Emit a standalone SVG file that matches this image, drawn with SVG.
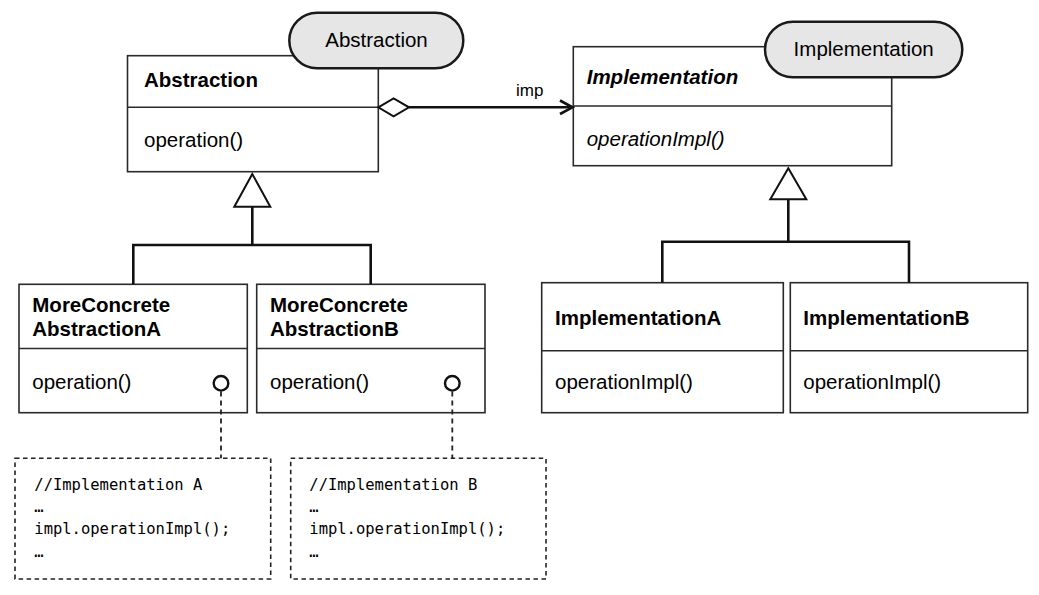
<svg xmlns="http://www.w3.org/2000/svg" width="1039" height="595" viewBox="0 0 1039 595">
<style>
.box{fill:#fff;stroke:#2a2a2a;stroke-width:1.6}
.div{stroke:#2a2a2a;stroke-width:1.6}
.pill{fill:#e6e6e6;stroke:#1a1a1a;stroke-width:2.5}
.t{font-family:"Liberation Sans",Arial,sans-serif;font-size:20.5px;fill:#000}
.b{font-weight:bold}
.i{font-style:italic}
.c{text-anchor:middle}
.mono{font-family:"DejaVu Sans Mono","Liberation Mono",monospace;font-size:15.5px;fill:#000}
.line{fill:none;stroke:#111;stroke-width:2.6}
.tri{fill:#fff;stroke:#111;stroke-width:2}
.note{fill:#fff;stroke:#222;stroke-width:1.6;stroke-dasharray:4.5 3.5}
.dash{fill:none;stroke:#222;stroke-width:1.8;stroke-dasharray:5 4}
.hole{fill:#fff;stroke:#111;stroke-width:2.4}
</style>
<rect width="1039" height="595" fill="#fff"/>
<g id="abstraction">
<rect class="box" x="127.5" y="55.7" width="250.8" height="116"/>
<line class="div" x1="127.5" y1="107.3" x2="378.3" y2="107.3"/>
<text class="t b" x="144" y="87">Abstraction</text>
<text class="t" x="144" y="147">operation()</text>
</g>
<g id="abstraction-label">
<rect class="pill" x="289.3" y="12.7" width="174" height="55.6" rx="27.8"/>
<text class="t c" x="376.5" y="47">Abstraction</text>
</g>
<g id="implementation">
<rect class="box" x="573.3" y="46.7" width="318.4" height="119"/>
<line class="div" x1="573.3" y1="106" x2="891.7" y2="106"/>
<text class="t b i" x="586.7" y="83.5">Implementation</text>
<text class="t i" x="586.7" y="146">operationImpl()</text>
</g>
<g id="implementation-label">
<rect class="pill" x="765" y="21.7" width="197.3" height="55.6" rx="27.8"/>
<text class="t c" x="863.7" y="56">Implementation</text>
</g>
<g id="moreConcreteA">
<rect class="box" x="19" y="284.3" width="228.3" height="128.4"/>
<line class="div" x1="19" y1="348.5" x2="247.3" y2="348.5"/>
<text class="t b" x="32.3" y="311.7">MoreConcrete</text>
<text class="t b" x="32.3" y="336">AbstractionA</text>
<text class="t" x="32.3" y="388.5">operation()</text>
</g>
<g id="moreConcreteB">
<rect class="box" x="256.7" y="284.3" width="228.3" height="128.4"/>
<line class="div" x1="256.7" y1="348.5" x2="485" y2="348.5"/>
<text class="t b" x="270" y="311.7">MoreConcrete</text>
<text class="t b" x="270" y="336">AbstractionB</text>
<text class="t" x="270" y="388.5">operation()</text>
</g>
<g id="implementationA">
<rect class="box" x="541.7" y="282.7" width="241.6" height="130"/>
<line class="div" x1="541.7" y1="350.7" x2="783.3" y2="350.7"/>
<text class="t b" x="555" y="325">ImplementationA</text>
<text class="t" x="555" y="389.3">operationImpl()</text>
</g>
<g id="implementationB">
<rect class="box" x="790.3" y="282.7" width="237.4" height="130"/>
<line class="div" x1="790.3" y1="350.7" x2="1027.7" y2="350.7"/>
<text class="t b" x="803.3" y="325">ImplementationB</text>
<text class="t" x="803.3" y="389.3">operationImpl()</text>
</g>
<g id="noteA">
<rect class="note" x="15" y="458.3" width="255.7" height="120.7"/>
<text class="mono" x="34.3" y="490">//Implementation A</text>
<text class="mono" x="34.3" y="512">…</text>
<text class="mono" x="34.3" y="534">impl.operationImpl();</text>
<text class="mono" x="34.3" y="556.5">…</text>
</g>
<g id="noteB">
<rect class="note" x="290.7" y="458.3" width="255.3" height="120.7"/>
<text class="mono" x="309.3" y="490">//Implementation B</text>
<text class="mono" x="309.3" y="512">…</text>
<text class="mono" x="309.3" y="534">impl.operationImpl();</text>
<text class="mono" x="309.3" y="556.5">…</text>
</g>
<g id="connectors">
<path class="line" d="M252.3 206.7V245M133.3 284.3V245H370.7V284.3"/>
<path class="line" d="M788.3 199.3V241.7M662.3 282.7V241.7H909V282.7"/>
<path class="line" d="M409 107.3H572"/>
<path class="line" d="M560 100.5L572.5 107.3L560 114"/>
<polygon class="tri" points="378.3,107.3 393.6,98.3 409,107.3 393.6,116.3"/>
<polygon class="tri" points="252.3,174 234.3,206.7 270.3,206.7"/>
<polygon class="tri" points="788.3,168.3 770.3,199.3 806.3,199.3"/>
<path class="dash" d="M221 391.5V458.3M452.3 391.5V458.3"/>
<circle class="hole" cx="221" cy="383.3" r="7.3"/>
<circle class="hole" cx="452.3" cy="383.3" r="7.3"/>
<text class="t" x="516" y="95.5" style="font-size:17px">imp</text>
</g>
</svg>
